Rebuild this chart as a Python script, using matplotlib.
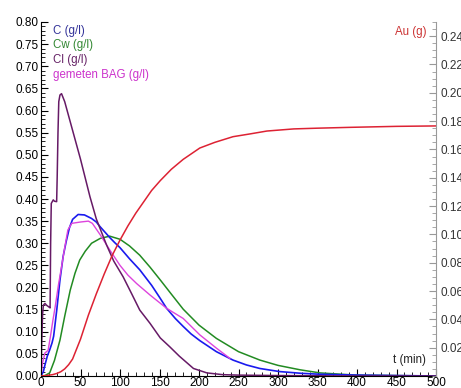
import matplotlib
matplotlib.use("Agg")
import matplotlib.pyplot as plt
from matplotlib.ticker import MultipleLocator, FixedLocator

plt.rcParams['font.family'] = ['Liberation Sans', 'DejaVu Sans']

# C (g/l) - blauw
t_c = [0, 3, 5, 8, 11, 14, 16, 20, 24, 28, 32, 36, 40, 47, 55, 64, 70, 75, 80,
       87, 93, 100, 112, 125, 140, 150, 159, 170, 180, 190, 201, 222, 243, 260,
       277, 302, 330, 353, 400, 450, 500]
c = [0, 0.01, 0.025, 0.045, 0.059, 0.075, 0.09, 0.15, 0.217, 0.27, 0.305, 0.335,
     0.354, 0.365, 0.364, 0.356, 0.348, 0.337, 0.327, 0.313, 0.302, 0.29, 0.265,
     0.24, 0.205, 0.178, 0.153, 0.13, 0.112, 0.095, 0.08, 0.055, 0.036, 0.025,
     0.017, 0.010, 0.006, 0.004, 0.002, 0.001, 0.0]

# Cw (g/l) - groen
t_cw = [0, 5, 11, 17, 24, 30, 37, 43, 49, 56, 64, 75, 87, 100, 112, 125, 138,
        151, 165, 180, 200, 222, 250, 277, 300, 328, 353, 380, 400, 450, 500]
cw = [0, 0.001, 0.007, 0.035, 0.081, 0.135, 0.194, 0.232, 0.262, 0.282, 0.300,
      0.311, 0.316, 0.309, 0.294, 0.273, 0.246, 0.217, 0.185, 0.151, 0.115,
      0.085, 0.055, 0.036, 0.024, 0.014, 0.007, 0.004, 0.002, 0.001, 0.0]

# Cl (g/l) - paars
t_cl = [0, 1, 2, 3, 5, 7, 10, 11.5, 12.2, 13, 15.5, 17, 19.8, 20.5, 21.5, 22.5,
        24, 26, 30, 40, 50, 62, 70, 83, 92, 104, 115, 125, 138, 151, 163, 175,
        193, 210, 230, 250, 300, 400, 500]
cl = [0, 0.08, 0.14, 0.16, 0.164, 0.16, 0.156, 0.154, 0.30, 0.39, 0.398, 0.395,
      0.394, 0.45, 0.55, 0.62, 0.635, 0.638, 0.62, 0.555, 0.49, 0.405, 0.355,
      0.296, 0.26, 0.224, 0.185, 0.149, 0.119, 0.086, 0.066, 0.045, 0.017,
      0.007, 0.003, 0.002, 0.001, 0.0, 0.0]

# gemeten BAG (g/l) - magenta, meting stopt rond 240 min
t_bag = [0, 2, 5, 9, 12, 15, 18, 22, 26, 30, 34, 39, 50, 60, 65, 75, 87, 100,
         110, 121, 138, 159, 180, 201, 222, 239]
bag = [0, 0.03, 0.052, 0.058, 0.09, 0.125, 0.157, 0.205, 0.247, 0.29, 0.33,
       0.345, 0.348, 0.350, 0.345, 0.319, 0.285, 0.25, 0.228, 0.209, 0.183,
       0.153, 0.130, 0.093, 0.063, 0.040]

# Au (g) - rood, rechter as
t_au = [0, 7, 15, 20, 25, 30, 35, 40, 50, 60, 70, 80, 90, 100, 110, 120, 130,
        140, 151, 165, 180, 201, 220, 243, 265, 286, 320, 349, 391, 450, 500]
au = [0, 0.0003, 0.001, 0.0018, 0.003, 0.005, 0.008, 0.012, 0.026, 0.043,
      0.058, 0.072, 0.085, 0.096, 0.106, 0.115, 0.123, 0.131, 0.138, 0.146,
      0.153, 0.161, 0.165, 0.169, 0.171, 0.173, 0.1745, 0.175, 0.1756, 0.1763,
      0.1766]

fig = plt.figure(figsize=(4.61, 3.88), dpi=100)
ax = fig.add_axes([41 / 461, 12 / 388, 395 / 461, 354 / 388])
ax2 = ax.twinx()

ax.plot(t_cw, cw, color='#228b22', lw=1.1)
ax.plot(t_c, c, color='#1a1aee', lw=1.2)
ax.plot(t_bag, bag, color='#dd44dd', lw=1.0)
ax.plot(t_cl, cl, color='#661a66', lw=1.1)
ax2.plot(t_au, au, color='#dd2233', lw=1.1)

ax.set_xlim(0, 500)
ax.set_ylim(0, 0.8)
ax2.set_ylim(0, 0.25)

# assen en ticks
ax.xaxis.set_major_locator(MultipleLocator(50))
ax.xaxis.set_minor_locator(MultipleLocator(10))
ax.yaxis.set_major_locator(MultipleLocator(0.05))
ax.yaxis.set_minor_locator(MultipleLocator(0.01))
ax.yaxis.set_major_formatter(plt.FuncFormatter(lambda v, p: "%.2f" % v))
ax.tick_params(which='both', direction='in', labelsize=8.5, colors='black')
ax.tick_params(axis='y', which='major', length=5, pad=2)
ax.tick_params(axis='y', which='minor', length=3)
ax.tick_params(axis='x', which='major', length=5, pad=1)
ax.tick_params(axis='x', which='minor', length=3)

ax2.yaxis.set_major_locator(FixedLocator([0.02 * i for i in range(1, 13)]))
ax2.yaxis.set_minor_locator(MultipleLocator(0.005))
ax2.yaxis.set_major_formatter(plt.FuncFormatter(lambda v, p: "%.2f" % v))
ax2.tick_params(which='both', direction='in', labelsize=8.5, color='#999999',
                labelcolor='#333333')
ax2.tick_params(which='major', length=5, pad=3)
ax2.tick_params(which='minor', length=3)

for a in (ax, ax2):
    a.spines['top'].set_visible(False)
ax.spines['right'].set_visible(False)
ax2.spines['left'].set_visible(False)
ax2.spines['bottom'].set_visible(False)
ax2.spines['right'].set_color('#999999')

# teksten
fs = 8.3
ax.text(12 / 395, 1 - 8.7 / 354, "C (g/l)", transform=ax.transAxes,
        color='#333399', fontsize=fs, va='center')
ax.text(12 / 395, 1 - 23 / 354, "Cw (g/l)", transform=ax.transAxes,
        color='#338833', fontsize=fs, va='center')
ax.text(12 / 395, 1 - 38 / 354, "Cl (g/l)", transform=ax.transAxes,
        color='#662266', fontsize=fs, va='center')
ax.text(12 / 395, 1 - 53 / 354, "gemeten BAG (g/l)", transform=ax.transAxes,
        color='#cc33cc', fontsize=fs, va='center')
ax.text(1 - 10 / 395, 1 - 9.7 / 354, "Au (g)", transform=ax.transAxes,
        color='#cc3333', fontsize=fs, va='center', ha='right')
ax.text(1 - 10 / 395, 16 / 354, "t (min)", transform=ax.transAxes,
        color='#222222', fontsize=fs, va='center', ha='right')

plt.savefig('out.png', dpi=100)
